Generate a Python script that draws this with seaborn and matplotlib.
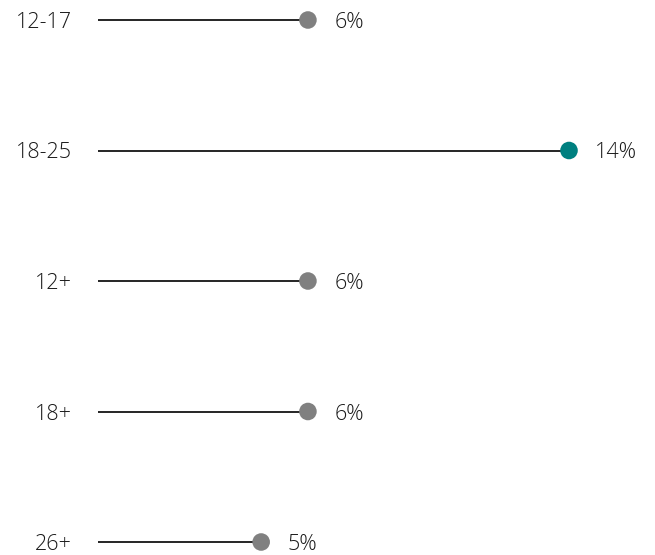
import matplotlib.pyplot as plt
import pandas as pd
import seaborn as sns

# data
groups = ['12-17', '18-25', '12+', '18+', '26+']
values = [6.24, 14.0, 6.24, 6.24, 4.85]
value_labels = ['6%', '14%', '6%', '6%', '5%']
highlight = ['other', 'top', 'other', 'other', 'other']

df = pd.DataFrame({'group': groups, 'value': values, 'kind': highlight})
df['pos'] = range(len(df))

sns.set_theme(style='white')
plt.rcParams['font.family'] = ['Open Sans', 'DejaVu Sans']
plt.rcParams['font.weight'] = 'light'

fig = plt.figure(figsize=(6.55, 5.55), dpi=100)
ax = fig.add_axes([98/655, 13/555, (569-98)/655, (542-20)/555])

ax.hlines(df['pos'], 0, df['value'], color='black', lw=1.2, zorder=1)
sns.scatterplot(data=df, x='value', y='pos', hue='kind',
                palette={'other': '#808080', 'top': '#008080'},
                s=160, edgecolor='none', legend=False, ax=ax, zorder=2, clip_on=False)

for p, v, lab in zip(df['pos'], df['value'], value_labels):
    ax.annotate(lab, (v, p), xytext=(19, 0), textcoords='offset points',
                ha='left', va='center_baseline', fontsize=15.5, color='#1a1a1a',
                fontweight='light')

ax.set_xlim(0, 14)
ax.set_ylim(4, 0)
ax.set_yticks(df['pos'], groups)
ax.tick_params(axis='y', length=0, pad=19, labelsize=15.5, labelcolor='#1a1a1a')
for t in ax.get_yticklabels():
    t.set_verticalalignment('center_baseline')
ax.set_xticks([])
ax.set_xlabel('')
ax.set_ylabel('')
for s in ax.spines.values():
    s.set_visible(False)
for line in ax.collections:
    line.set_clip_on(False)

fig.savefig('out.png', dpi=100)
